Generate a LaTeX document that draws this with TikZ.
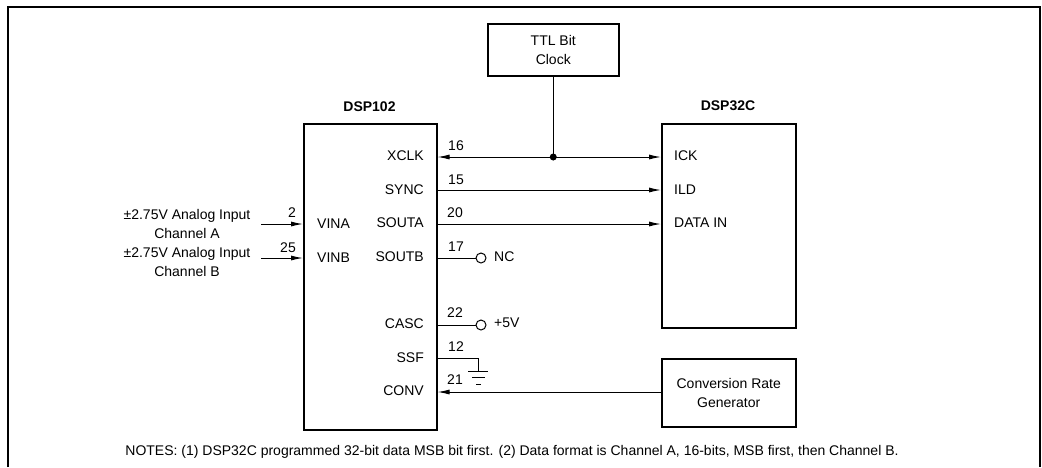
\documentclass[tikz,border=0pt]{standalone}
\usepackage{fontspec}
\setmainfont{Liberation Sans}
\usepackage{tikz}
\usetikzlibrary{arrows.meta,positioning,calc}

\begin{document}
\begin{tikzpicture}[x=1pt,y=-1pt,
  chip/.style={draw, line width=1.5pt, minimum width=133pt, anchor=north west, inner sep=0pt},
  gen/.style={chip, align=center, font=\fontsize{14}{19}\selectfont},
  pin/.style={font=\fontsize{14}{16}\selectfont, inner sep=0pt},
  num/.style={font=\fontsize{14}{16}\selectfont, inner sep=0pt, anchor=south},
  arr/.style={-{Latex[length=12pt,width=5pt]}, line width=1pt},
  wire/.style={line width=1pt},
  opn/.style={draw, circle, line width=1pt, minimum size=10pt, inner sep=0pt},
]
\useasboundingbox (0,0) rectangle (1042,467);
% frame, open at the bottom
\coordinate (fa) at (8,467);
\coordinate (fb) at (8,7);
\coordinate (fc) at (1040,7);
\coordinate (fd) at (1040,467);
\draw[line width=1.5pt] (fa) -- (fb) -- (fc) -- (fd);
% chips
\node[chip, minimum height=306pt] (dsp102) at (303,123) {};
\node[chip, minimum width=134pt, minimum height=204pt] (dsp32c) at (661,123) {};
\node[gen, minimum width=131pt, minimum height=52pt] (ttl) at (487,23) {TTL Bit\\Clock};
\node[gen, minimum width=134pt, minimum height=68pt] (conv) at (661,358) {Conversion Rate\\Generator};
\node[font=\fontsize{14}{16}\selectfont\bfseries, inner sep=0pt] (t102) at (369.5,107) {DSP102};
\node[font=\fontsize{14}{16}\selectfont\bfseries, inner sep=0pt] (t32c) at (728,106) {DSP32C};
% pins on DSP102
\node[pin, anchor=east] (xclk) at (424,156) {XCLK};
\node[pin, anchor=east] (sync) at (424,190) {SYNC};
\node[pin, anchor=east] (souta) at (424,223) {SOUTA};
\node[pin, anchor=east] (soutb) at (424,257) {SOUTB};
\node[pin, anchor=east] (casc) at (424,324) {CASC};
\node[pin, anchor=east] (ssf) at (424,358) {SSF};
\node[pin, anchor=east] (cnv) at (424,391) {CONV};
\node[pin, anchor=west] (vina) at (317,224) {VINA};
\node[pin, anchor=west] (vinb) at (317,258) {VINB};
% pins on DSP32C
\node[pin, anchor=west] (ick) at (674,156) {ICK};
\node[pin, anchor=west] (ild) at (674,190) {ILD};
\node[pin, anchor=west] (din) at (674,223) {DATA IN};
% inputs
\node[pin, align=center, font=\fontsize{14}{19}\selectfont] (cha) at (187,224) {±2.75V Analog Input\\Channel A};
\node[pin, align=center, font=\fontsize{14}{19}\selectfont] (chb) at (187,262) {±2.75V Analog Input\\Channel B};
\coordinate (ina) at (261,224);
\coordinate (inb) at (261,258);
\draw[arr] (ina) -- (ina -| dsp102.west);
\draw[arr] (inb) -- (inb -| dsp102.west);
\node[num] (n2) at (292,218) {2};
\node[num] (n25) at (288,252.5) {25};
% clock net
\coordinate (jn) at (ttl.south |- 0,157);
\draw[wire] (ttl.south) -- (jn);
\fill (jn) circle (3.5pt);
\draw[arr] (jn) -- (jn -| dsp102.east);
\draw[arr] (jn) -- (jn -| dsp32c.west);
\draw[arr] (dsp102.east |- 0,190) -- (dsp32c.west |- 0,190);
\draw[arr] (dsp102.east |- 0,224) -- (dsp32c.west |- 0,224);
\node[num] (n16) at (456,151) {16};
\node[num] (n15) at (456,184.5) {15};
\node[num] (n20) at (455,218) {20};
\node[num] (n17) at (456,252) {17};
% open pins
\node[opn] (nc) at (481,258) {};
\node[opn] (vcc) at (481,325) {};
\draw[wire] (dsp102.east |- nc) -- (nc);
\draw[wire] (dsp102.east |- vcc) -- (vcc);
\node[pin, anchor=west] (nclab) at (494,257) {NC};
\node[pin, anchor=west] (vlab) at (494,323) {+5V};
\node[num] (n22) at (455,318) {22};
\node[num] (n12) at (456,352) {12};
% ground
\coordinate (gnd) at (478,371);
\draw[wire] (dsp102.east |- 0,358) -| (gnd);
\draw[wire] (468,371) -- (488,371);
\draw[wire] (472,377.5) -- (485,377.5);
\draw[wire] (476,384) -- (481,384);
% conversion
\draw[arr] (conv.west |- 0,392) -- (dsp102.east |- 0,392);
\node[num] (n21) at (455,385) {21};
% notes
\node[font=\fontsize{14}{18}\selectfont, inner sep=0pt] (notes) at (512,452) {NOTES: (1) DSP32C programmed 32-bit data MSB bit first. (2) Data format is Channel A, 16-bits, MSB first, then Channel B.};
\end{tikzpicture}
\end{document}
